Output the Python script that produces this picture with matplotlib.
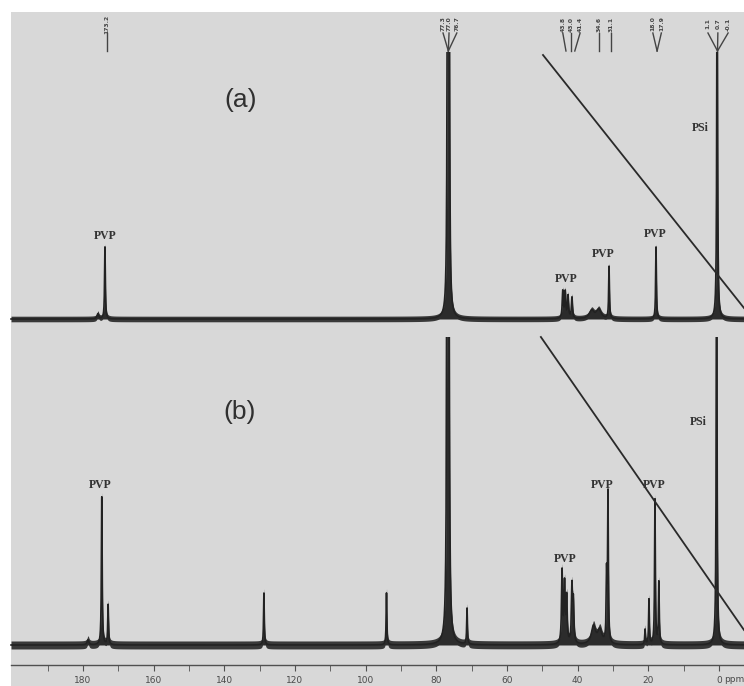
import numpy as np
import matplotlib.pyplot as plt
from matplotlib.patches import Rectangle

# 13C NMR peaks: position (ppm), height (a.u.), half width (ppm)
# (solvent and PSi lines are off scale in the scan, cut at the trace ceiling)
a_ppm    = [175.8, 173.8, 76.85, 76.6, 76.35, 44.2, 43.5, 42.7, 41.6, 36.0, 34.0, 31.1, 17.8, 0.5]
a_height = [5, 72, 300, 300, 300, 27, 26, 22, 21, 8, 9, 52, 72, 400]
a_width  = [0.3, 0.13, 0.15, 0.15, 0.15, 0.18, 0.18, 0.18, 0.18, 0.8, 0.8, 0.13, 0.13, 0.13]

b_ppm    = [178.6, 174.7, 172.9, 128.8, 94.1, 76.95, 76.7, 76.45, 71.3,
            44.4, 43.7, 43.1, 41.6, 41.2, 35.5, 33.7, 31.8, 31.4,
            20.9, 19.8, 18.1, 17.0, 0.65]
b_height = [5, 148, 40, 52, 52, 380, 380, 380, 36,
            72, 58, 45, 56, 40, 18, 14, 65, 148,
            15, 45, 145, 62, 450]
b_width  = [0.3, 0.13, 0.13, 0.12, 0.12, 0.16, 0.16, 0.16, 0.12,
            0.18, 0.18, 0.18, 0.18, 0.18, 0.7, 0.7, 0.13, 0.13,
            0.12, 0.12, 0.13, 0.13, 0.13]

base_a = 346
base_b = 20
top_a = 613
top_b = 328

# peak-pick labels at the top: text, label position, end of leader line
pick_text = ["173.2", "77.3", "77.0", "76.7", "43.8", "43.0", "41.4",
             "34.6", "31.1", "18.0", "17.9", "1.1", "0.7", "-0.1"]
pick_ppm  = [173.2, 78.1, 76.4, 74.2, 44.2, 41.9, 39.3,
             34.0, 30.6, 18.7, 16.3, 3.1, 0.3, -2.6]
pick_end  = [173.2, 76.6, 76.6, 76.6, 43.3, 41.9, 40.8,
             34.0, 30.6, 17.5, 17.5, 0.4, 0.4, 0.4]

# diagonal ruled lines over each trace
diag_a_ppm = [49.8, -7.1]
diag_a_y   = [610, 357]
diag_b_ppm = [50.4, -7.1]
diag_b_y   = [328, 35]


def spectrum(x, pos, hgt, wid, base):
    y = np.full_like(x, float(base))
    for p, h, w in zip(pos, hgt, wid):
        y += h / (1 + ((x - p) / w) ** 2)
    return y


x = np.arange(-7.1, 200.4, 0.01)
ya = spectrum(x, a_ppm, a_height, a_width, base_a)
yb = spectrum(x, b_ppm, b_height, b_width, base_b)

fig = plt.figure(figsize=(7.44, 6.86), dpi=100)
fig.patch.set_facecolor("white")
fig.patches.append(Rectangle((11 / 744, 0), 1, (686 - 12) / 686,
                             transform=fig.transFigure, facecolor="#d8d8d8",
                             edgecolor="none", zorder=-10))

ax = fig.add_axes([11 / 744, 21 / 686, 733 / 744, 653 / 686])
ax.set_facecolor("none")
ax.set_zorder(5)
ax.set_xlim(200.4, -7.1)
ax.set_ylim(0, 653)

ink = "#222222"
clip_a = Rectangle((-10, 300), 220, top_a - 300, transform=ax.transData)
clip_b = Rectangle((-10, -10), 220, top_b + 10, transform=ax.transData)
for art in [ax.fill_between(x, ya - 2.8, ya + 2.8, color="#393939", lw=0),
            ax.fill_between(x, base_a, ya, color="#2c2c2c", lw=0),
            ax.plot(x, ya, color=ink, lw=1.2)[0]]:
    art.set_clip_path(clip_a)
for art in [ax.fill_between(x, yb - 4, yb + 4, color="#393939", lw=0),
            ax.fill_between(x, base_b, yb, color="#2c2c2c", lw=0),
            ax.plot(x, yb, color=ink, lw=1.2)[0]]:
    art.set_clip_path(clip_b)

ax.plot(diag_a_ppm, diag_a_y, color="#2a2a2a", lw=1.3)
ax.plot(diag_b_ppm, diag_b_y, color="#2a2a2a", lw=1.3)

# peak-pick tree
for t, p, e in zip(pick_text, pick_ppm, pick_end):
    ax.text(p, 641, t, rotation=90, ha="center", va="center",
            fontsize=4.3, color="#444444", fontweight="bold")
    ax.plot([p, e], [632, 614], color="#444444", lw=1.0)

# labels
lab = dict(fontsize=8.5, fontweight="bold", family="Liberation Serif",
           color="#333333", ha="center", va="bottom")
for p, yy in [(173.8, 423), (43.3, 380), (32.8, 405), (18.0, 425),
              (175.2, 174), (43.6, 100), (33.1, 174), (18.4, 174)]:
    ax.text(p, yy, "PVP", **lab)
ax.text(5.4, 537, "PSi", fontsize=8.5, fontweight="bold",
        family="Liberation Serif", color="#333333", ha="center", va="center")
ax.text(5.9, 243, "PSi", fontsize=8.5, fontweight="bold",
        family="Liberation Serif", color="#333333", ha="center", va="center")

ax.text(135.3, 565, "(a)", fontsize=19, family="Liberation Sans",
        color="#303030", ha="center", va="center")
ax.text(135.6, 253, "(b)", fontsize=19, family="Liberation Sans",
        color="#303030", ha="center", va="center")

for s in ["top", "left", "right"]:
    ax.spines[s].set_visible(False)
ax.spines["bottom"].set_color("#505050")
ax.spines["bottom"].set_linewidth(1.0)
ax.set_yticks([])
ax.set_xticks(np.arange(180, -1, -20))
ax.set_xticks(np.arange(190, -1, -10), minor=True)
ax.tick_params(axis="x", which="both", direction="out", length=4,
               color="#505050", labelsize=6.5, labelcolor="#4a4a4a", pad=4)
ax.text(-1.6, -15, "ppm", fontsize=6.5, color="#4a4a4a", ha="left",
        va="center", clip_on=False)

fig.savefig("out.png", dpi=100)
